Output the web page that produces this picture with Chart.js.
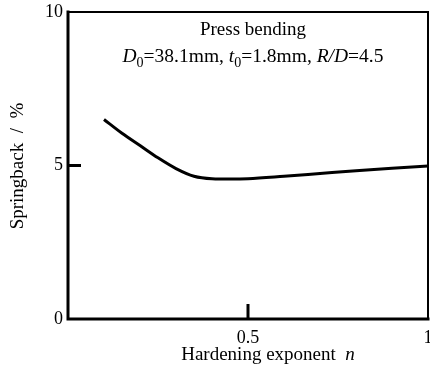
<!DOCTYPE html>
<html>
<head>
<meta charset="utf-8">
<script src="https://cdn.jsdelivr.net/npm/chart.js@4/dist/chart.umd.min.js"></script>
<style>
  html, body { margin: 0; padding: 0; background: #fff; }
  #wrap { width: 430px; height: 372px; }
</style>
</head>
<body>
<div id="wrap"><canvas id="myChart" width="430" height="372"></canvas></div>
<script>
// hardening exponent n and springback %
const nValues = [0.1, 0.15, 0.2, 0.25, 0.3, 0.35, 0.4, 0.45, 0.5, 0.6, 0.7, 0.8, 0.9, 1.0];
const springback = [6.5, 6.05, 5.65, 5.25, 4.9, 4.65, 4.57, 4.56, 4.57, 4.65, 4.74, 4.83, 4.91, 4.98];
const yTicks = [0, 5, 10];
const xTicks = [0.5, 1];

const serif = '"Liberation Serif", "DejaVu Serif", serif';

// draws runs of text with mixed styles, centered on cx
function drawRuns(ctx, runs, cx, y, size) {
    let total = 0;
    runs.forEach(r => {
        const s = r.sub ? size * 0.72 : size;
        ctx.font = (r.italic ? 'italic ' : '') + s + 'px ' + serif;
        r.w = ctx.measureText(r.t).width;
        total += r.w;
    });
    let x = cx - total / 2;
    ctx.textAlign = 'left';
    ctx.textBaseline = 'alphabetic';
    runs.forEach(r => {
        const s = r.sub ? size * 0.72 : size;
        ctx.font = (r.italic ? 'italic ' : '') + s + 'px ' + serif;
        ctx.fillText(r.t, x, r.sub ? y + size * 0.25 : y);
        x += r.w;
    });
}

const framePlugin = {
    id: 'frame',
    afterDraw(chart) {
        const ctx = chart.ctx;
        const a = chart.chartArea;
        const xs = chart.scales.x, ys = chart.scales.y;
        ctx.save();
        ctx.strokeStyle = '#000';
        ctx.lineCap = 'square';
        // top + right thinner
        ctx.lineWidth = 2;
        ctx.beginPath();
        ctx.moveTo(a.left, a.top);
        ctx.lineTo(a.right, a.top);
        ctx.lineTo(a.right, a.bottom);
        ctx.stroke();
        // left + bottom thick
        ctx.lineWidth = 3;
        ctx.beginPath();
        ctx.moveTo(a.left, a.top);
        ctx.lineTo(a.left, a.bottom);
        ctx.lineTo(a.right, a.bottom);
        ctx.stroke();
        // inward ticks
        ctx.lineWidth = 3;
        ctx.lineCap = 'butt';
        ctx.beginPath();
        const y5 = ys.getPixelForValue(5);
        ctx.moveTo(a.left, y5);
        ctx.lineTo(a.left + 13, y5);
        const x5 = xs.getPixelForValue(0.5);
        ctx.moveTo(x5, a.bottom);
        ctx.lineTo(x5, a.bottom - 15);
        ctx.stroke();

        ctx.fillStyle = '#000';
        // annotation
        drawRuns(ctx, [{t: 'Press bending'}], 253, 35, 19);
        drawRuns(ctx, [
            {t: 'D', italic: true}, {t: '0', sub: true}, {t: '=38.1mm, '},
            {t: 't', italic: true}, {t: '0', sub: true}, {t: '=1.8mm, '},
            {t: 'R/D', italic: true}, {t: '=4.5'}
        ], 253, 62, 19.5);
        // x title
        drawRuns(ctx, [{t: 'Hardening exponent  '}, {t: 'n', italic: true}], 268, 360, 19);
        // y title
        ctx.translate(23, 166);
        ctx.rotate(-Math.PI / 2);
        drawRuns(ctx, [{t: 'Springback  /  %'}], 0, 0, 19);
        ctx.restore();
    }
};

const ctx = document.getElementById('myChart');

new Chart(ctx, {
    type: 'line',
    data: {
        datasets: [{
            data: nValues.map((n, i) => ({x: n, y: springback[i]})),
            borderColor: '#000',
            borderWidth: 3,
            pointRadius: 0,
            cubicInterpolationMode: 'monotone',
            fill: false
        }]
    },
    options: {
        responsive: false,
        animation: false,
        layout: { padding: { top: 12, right: 2, left: 0, bottom: 0 } },
        plugins: {
            legend: { display: false },
            tooltip: { enabled: false }
        },
        scales: {
            x: {
                type: 'linear',
                min: 0,
                max: 1,
                afterFit: s => { s.height = 53; s.paddingLeft = 0; s.paddingRight = 0; },
                afterBuildTicks: s => { s.ticks = xTicks.map(v => ({value: v})); },
                grid: { display: false, drawTicks: false },
                border: { display: false },
                ticks: {
                    color: '#000',
                    padding: 8,
                    maxRotation: 0,
                    font: { family: serif, size: 18 },
                    callback: v => v === 1 ? '1' : String(v)
                }
            },
            y: {
                min: 0,
                max: 10,
                afterFit: s => { s.width = 68; s.paddingTop = 0; s.paddingBottom = 0; },
                afterBuildTicks: s => { s.ticks = yTicks.map(v => ({value: v})); },
                grid: { display: false, drawTicks: false },
                border: { display: false },
                ticks: {
                    color: '#000',
                    padding: 5,
                    font: { family: serif, size: 18 }
                }
            }
        }
    },
    plugins: [framePlugin]
});
</script>
</body>
</html>
